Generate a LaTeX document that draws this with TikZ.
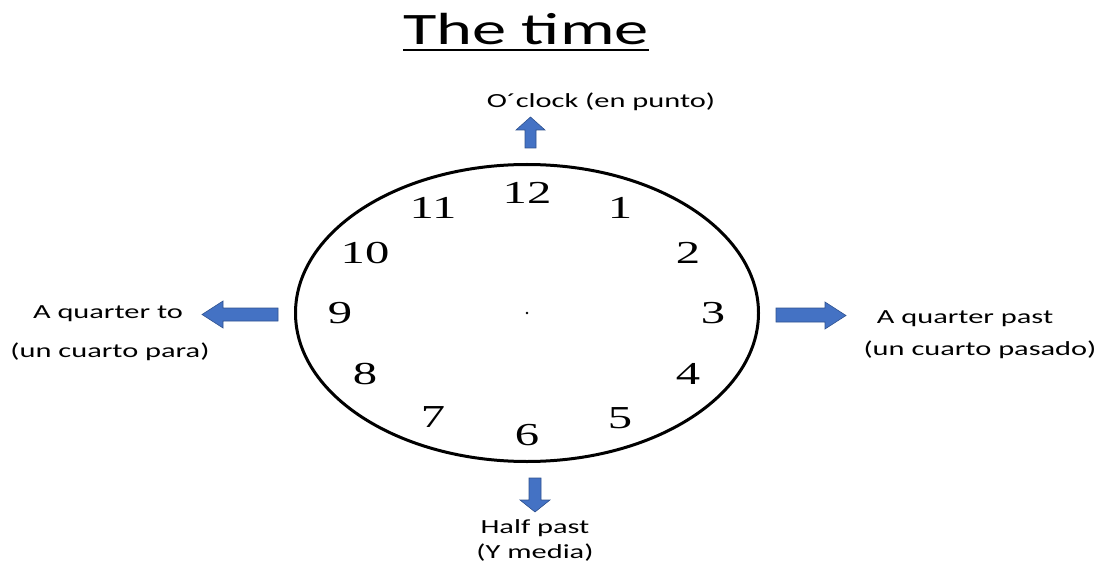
\documentclass[tikz,border=0pt]{standalone}
\usepackage{graphicx}
\usepackage{fontspec}
\setmainfont{Carlito}
\newfontfamily\numfont{Liberation Serif}
\usetikzlibrary{shapes.geometric}
\definecolor{arrowblue}{HTML}{4472C4}
\definecolor{arrowedge}{HTML}{2F528F}
\newcommand\stretchtxt[1]{\scalebox{1.52}[1]{#1}}
\begin{document}
\begin{tikzpicture}[x=1pt,y=-1pt,
  lbl/.style={inner sep=0pt, font=\fontsize{20}{24}\selectfont},
  num/.style={inner sep=0pt, font=\numfont\fontsize{32}{36}\selectfont},
  blockarrow/.style={fill=arrowblue, draw=arrowedge, line width=0.6pt, line join=miter},
]
\useasboundingbox (0,0) rectangle (1103,572);
% title
\node[inner sep=0pt, anchor=base, font=\fontsize{45}{50}\selectfont] (title) at (526,45) {\stretchtxt{The time}};
\coordinate (ul) at (0,50);
\draw[line width=2.6pt] (title.base west |- ul) -- (title.base east |- ul);
% clock
\node[draw, line width=3pt, ellipse, minimum width=463pt, minimum height=297pt, inner sep=0pt] (clock) at (527,313) {};
\fill (clock.center) circle (1.4pt);
\node[num] (n12) at (527,193) {\stretchtxt{12}};
\node[num] (n1)  at (620,208) {\stretchtxt{1}};
\node[num] (n2)  at (688,253) {\stretchtxt{2}};
\node[num] (n3)  at (713,313) {\stretchtxt{3}};
\node[num] (n4)  at (688,374) {\stretchtxt{4}};
\node[num] (n5)  at (620,418) {\stretchtxt{5}};
\node[num] (n6)  at (527,435) {\stretchtxt{6}};
\node[num] (n7)  at (433,417) {\stretchtxt{7}};
\node[num] (n8)  at (365,374) {\stretchtxt{8}};
\node[num] (n9)  at (340,313) {\stretchtxt{9}};
\node[num] (n10) at (365,253) {\stretchtxt{10}};
\node[num] (n11) at (433,208) {\stretchtxt{11}};
% arrows
\draw[blockarrow] (525,148) -- (525,130) -- (516,130) -- (530.5,117) -- (545,130) -- (536,130) -- (536,148) -- cycle;
\draw[blockarrow] (529,478) -- (529,500) -- (520,500) -- (535,512) -- (550,500) -- (541,500) -- (541,478) -- cycle;
\draw[blockarrow] (278,308) -- (223,308) -- (223,301) -- (202,314.5) -- (223,328) -- (223,321) -- (278,321) -- cycle;
\draw[blockarrow] (776,308) -- (825,308) -- (825,302) -- (846,315.5) -- (825,329) -- (825,322) -- (776,322) -- cycle;
% labels
\node[lbl] (top)   at (601,102) {\stretchtxt{O´clock (en punto)}};
\node[lbl] (left1) at (108,314) {\stretchtxt{A quarter to}};
\node[lbl] (left2) at (110,352) {\stretchtxt{(un cuarto para)}};
\node[lbl] (right1) at (965,319) {\stretchtxt{A quarter past}};
\node[lbl] (right2) at (980,350) {\stretchtxt{(un cuarto pasado)}};
\node[lbl] (bot1) at (535,528) {\stretchtxt{Half past}};
\node[lbl] (bot2) at (535,553) {\stretchtxt{(Y media)}};
\end{tikzpicture}
\end{document}
